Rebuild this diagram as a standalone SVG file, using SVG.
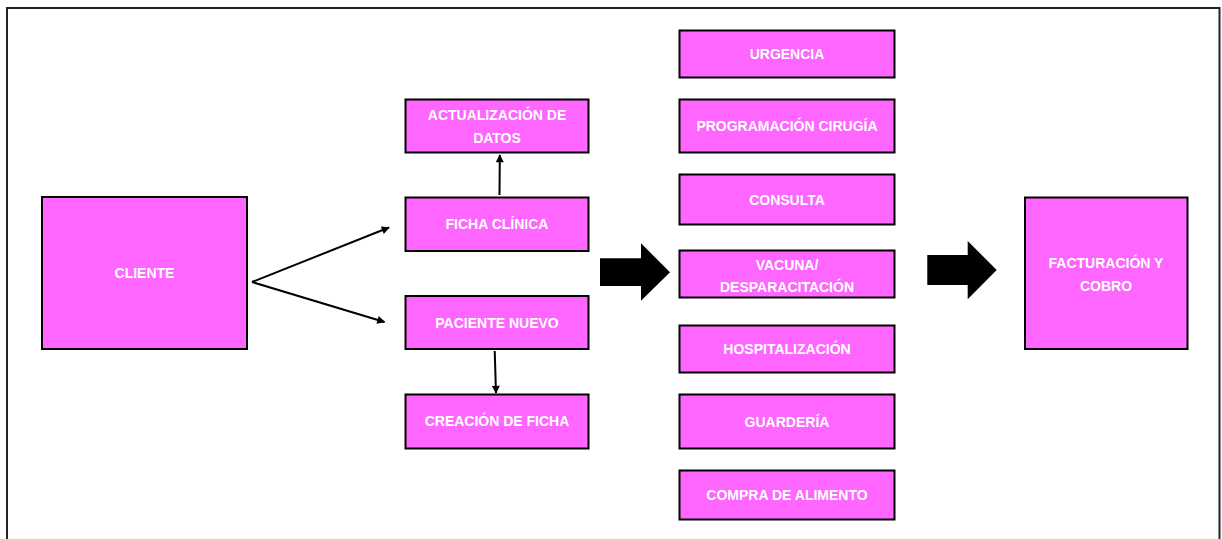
<svg xmlns="http://www.w3.org/2000/svg" width="1222" height="539" viewBox="0 0 1222 539">
<defs>
<style>
.box{fill:#FF66FF;stroke:#000;stroke-width:2}
.lbl{font-family:"Liberation Sans",Arial,sans-serif;font-weight:bold;font-size:14px;fill:#fff;text-anchor:middle}
.ln{stroke:#000;stroke-width:2;fill:none;marker-end:url(#ah)}
.big{fill:#000}
</style>
<marker id="ah" viewBox="0 0 10 10" refX="9" refY="5" markerWidth="10" markerHeight="8" markerUnits="userSpaceOnUse" orient="auto">
<path d="M0,0 L10,5 L0,10 z" fill="#000"/>
</marker>
</defs>
<rect width="1222" height="539" fill="#fff"/>
<path d="M7,539 V8 H1219.5 V539" fill="none" stroke="#222" stroke-width="2"/>

<g id="cliente"><rect class="box" x="42" y="197" width="205" height="152"/><text class="lbl" x="144.5" y="278">CLIENTE</text></g>
<g id="actualizacion"><rect class="box" x="405.5" y="99.5" width="183" height="53"/><text class="lbl" x="497" y="120">ACTUALIZACIÓN DE</text><text class="lbl" x="497" y="143">DATOS</text></g>
<g id="ficha"><rect class="box" x="405.5" y="197.5" width="183" height="53.5"/><text class="lbl" x="497" y="228.5">FICHA CLÍNICA</text></g>
<g id="paciente"><rect class="box" x="405.5" y="296" width="183" height="53"/><text class="lbl" x="497" y="327.5">PACIENTE NUEVO</text></g>
<g id="creacion"><rect class="box" x="405.5" y="394.5" width="183" height="54"/><text class="lbl" x="497" y="426">CREACIÓN DE FICHA</text></g>

<g id="urgencia"><rect class="box" x="679.5" y="30.5" width="215" height="47"/><text class="lbl" x="787" y="58.5">URGENCIA</text></g>
<g id="programacion"><rect class="box" x="679.5" y="99.5" width="215" height="53"/><text class="lbl" x="787" y="131">PROGRAMACIÓN CIRUGÍA</text></g>
<g id="consulta"><rect class="box" x="679.5" y="174.5" width="215" height="50"/><text class="lbl" x="787" y="204.5">CONSULTA</text></g>
<g id="vacuna"><rect class="box" x="679.5" y="250.5" width="215" height="47"/><text class="lbl" x="787" y="270">VACUNA/</text><text class="lbl" x="787" y="291.5">DESPARACITACIÓN</text></g>
<g id="hospitalizacion"><rect class="box" x="679.5" y="325.5" width="215" height="47"/><text class="lbl" x="787" y="353.5">HOSPITALIZACIÓN</text></g>
<g id="guarderia"><rect class="box" x="679.5" y="394.5" width="215" height="54"/><text class="lbl" x="787" y="426.5">GUARDERÍA</text></g>
<g id="compra"><rect class="box" x="679.5" y="470.5" width="215" height="49"/><text class="lbl" x="787" y="499.5">COMPRA DE ALIMENTO</text></g>

<g id="facturacion"><rect class="box" x="1025" y="197.5" width="162.5" height="151.5"/><text class="lbl" x="1106" y="267.5">FACTURACIÓN Y</text><text class="lbl" x="1106" y="291">COBRO</text></g>

<g id="connectors">
<line class="ln" x1="252" y1="282" x2="389" y2="227.5"/>
<line class="ln" x1="252" y1="282" x2="384.5" y2="322"/>
<line class="ln" x1="499.5" y1="195" x2="499.8" y2="155"/>
<line class="ln" x1="494.7" y1="351" x2="496" y2="393"/>
<path class="big" d="M600,258.3 H641 V243.3 L670,272.3 L641,300.7 V286 H600 Z"/>
<path class="big" d="M927.3,255 H967.7 V241 L996.7,270 L967.7,299.3 V285 H927.3 Z"/>
</g>
</svg>
